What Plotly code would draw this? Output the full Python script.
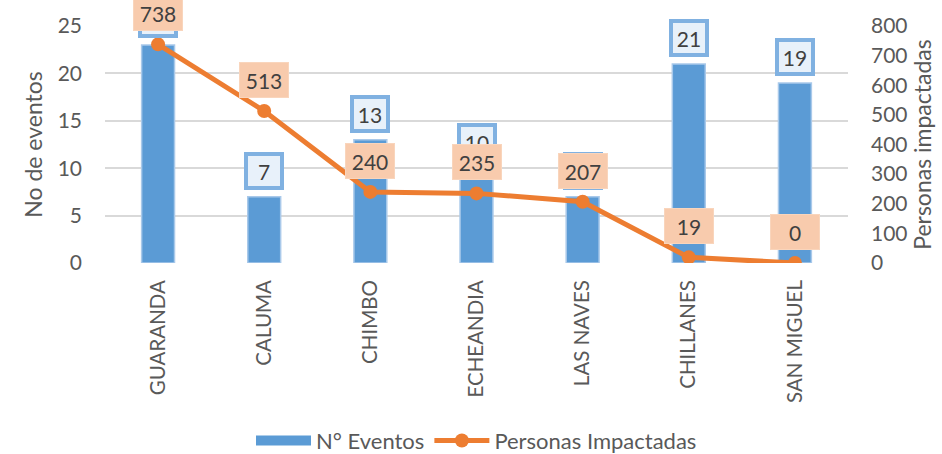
import plotly.graph_objects as go

categorias = ["GUARANDA", "CALUMA", "CHIMBO", "ECHEANDIA", "LAS NAVES", "CHILLANES", "SAN MIGUEL"]
eventos = [23, 7, 13, 10, 7, 21, 19]
personas = [738, 513, 240, 235, 207, 19, 0]

FONT = "Lato"
BLUE = "#5B9BD5"
ORANGE = "#ED7D31"
TXT = "#404040"
AX = "#595959"

fig = go.Figure()
fig.add_trace(go.Bar(
    x=categorias, y=eventos, name="N° Eventos",
    marker=dict(color=BLUE, line=dict(color="#a9c9ea", width=1.5)),
    width=0.31, yaxis="y", showlegend=False, legendgroup="ev",
))
# legend proxy for the bar series (wide rectangle swatch)
fig.add_trace(go.Scatter(
    x=[None], y=[None], name="N° Eventos", mode="lines",
    line=dict(color=BLUE, width=12), legendgroup="ev", yaxis="y",
))
fig.add_trace(go.Scatter(
    x=categorias, y=personas, name="Personas Impactadas",
    mode="lines+markers", yaxis="y2",
    line=dict(color=ORANGE, width=5),
    marker=dict(color=ORANGE, size=14),
))

annotations = []
for c, v in zip(categorias, eventos):
    annotations.append(dict(
        x=c, y=v, xref="x", yref="y", text=str(v), showarrow=False,
        yanchor="middle", yshift=26, width=32, height=30, borderpad=0,
        bgcolor="#e8f1fa", bordercolor="#80b1e1", borderwidth=4,
        font=dict(family=FONT, size=21, color=TXT),
    ))
for c, v in zip(categorias, personas):
    annotations.append(dict(
        x=c, y=v, xref="x", yref="y2", text=str(v), showarrow=False,
        yanchor="middle", yshift=31, width=48, height=34, borderpad=0,
        bgcolor="#f8cbad", bordercolor="#f9d5bc", borderwidth=1,
        font=dict(family=FONT, size=21, color=TXT),
    ))

fig.update_layout(
    width=942, height=454,
    margin=dict(l=105, r=94, t=26, b=191, autoexpand=False),
    paper_bgcolor="white", plot_bgcolor="white",
    font=dict(family=FONT, size=20, color=AX),
    showlegend=True,
    legend=dict(orientation="h", x=0.5, xanchor="center", y=-0.75, yanchor="middle",
                font=dict(family=FONT, size=22, color=AX), itemwidth=55,
                traceorder="normal"),
    xaxis=dict(tickangle=-90, showgrid=False, showline=False, ticks="", automargin=False,
               ticklabelstandoff=12, tickfont=dict(family=FONT, size=20.5, color=AX)),
    yaxis=dict(range=[0, 25], dtick=5, showgrid=True, gridcolor="#d9d9d9", gridwidth=1.5,
               zeroline=False, showline=False, ticks="", ticklabelstandoff=22, automargin=False,
               title=dict(text="No de eventos", standoff=8, font=dict(family=FONT, size=23, color=AX)),
               tickfont=dict(family=FONT, size=21, color=AX)),
    yaxis2=dict(range=[0, 800], dtick=100, overlaying="y", side="right", showgrid=False,
                zeroline=False, showline=False, ticks="", ticklabelstandoff=22, automargin=False,
                title=dict(text="Personas impactadas", standoff=2, font=dict(family=FONT, size=23, color=AX)),
                tickfont=dict(family=FONT, size=21, color=AX)),
    annotations=annotations,
)

fig.write_html("out.html", config={"displayModeBar": False},
               post_script="document.body.style.margin='0';document.body.style.overflow='hidden';")
